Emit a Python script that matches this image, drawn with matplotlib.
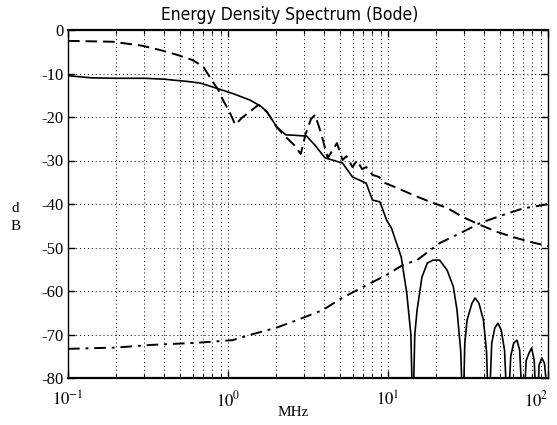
import matplotlib
matplotlib.use("Agg")
import matplotlib.pyplot as plt
from matplotlib.ticker import LogLocator, NullFormatter

# ---- data ----
solid_f = [0.1, 0.14, 0.2, 0.3, 0.4, 0.45, 0.55, 0.67, 0.85, 1.07, 1.37, 1.6, 1.75,
           2.02, 2.3, 2.6, 3.1, 3.5, 4.04, 4.5, 5.2, 6.0, 7.3, 8.0, 8.9, 9.8, 10.5,
           12.1, 13.1, 13.9, 14.3, 14.7, 15.2, 16.3, 17.6, 19.1, 21, 23.4, 25.6, 27,
           28.5, 29.4, 30.2, 31.2, 33.5, 35, 37, 39.5, 41.3, 42.6, 44.5, 46.5, 48.7,
           51, 53.5, 56, 58.5, 61, 64, 66.5, 70, 73, 76, 79, 82, 85, 88, 91.5, 95, 100]
solid_db = [-10.5, -11, -11.1, -11.1, -11.3, -11.5, -11.8, -12.2, -13.4, -14.6, -16.1, -17.5, -18.8,
            -22.3, -24.1, -24.2, -24.4, -26.5, -29.4, -29.9, -30.6, -33.8, -35.2, -39.1, -39.5, -43.7, -45.5,
            -52.2, -60.5, -70, -90, -70, -64.4, -56.8, -53.6, -52.9, -52.9, -55.2, -59, -64.4,
            -74, -90, -72, -66.7, -62.8, -61.6, -62.8, -66.7, -74, -90, -72, -68.5, -67.4,
            -69, -73.6, -90, -75, -72, -71.3, -73.6, -90, -76, -74.3, -73.1, -75.9, -90, -77, -75.4, -76.6, -85]

dash_f = [0.1, 0.19, 0.29, 0.376, 0.48, 0.6, 0.7, 0.79, 0.87, 0.93, 1.03, 1.11, 1.22, 1.41,
          1.55, 1.75, 2.02, 2.3, 2.6, 2.85, 3.05, 3.3, 3.5, 3.8, 4.2, 4.8, 5.2, 5.5, 6.0,
          6.4, 6.9, 7.3, 8.0, 8.8, 9.6, 11.4, 14.3, 18.3, 23.4, 29.4, 37.6, 48, 60.4, 77.2, 93, 100]
dash_db = [-2.5, -2.7, -3.6, -4.6, -5.7, -6.9, -8.4, -11.5, -13.8, -16.1, -19.1, -21.8, -20.2, -18.4,
           -17.2, -18.8, -22.4, -24.6, -26.5, -28.5, -24, -20.5, -19.5, -23.5, -29.4, -26, -29.9, -29, -31.5,
           -30, -32, -31.5, -33.3, -33.8, -35.2, -36.3, -37.9, -39.5, -40.9, -43, -44.8, -46.4, -47.6, -48.7, -49.4, -49.7]

dd_f = [0.1, 0.2, 0.33, 0.64, 1.07, 1.37, 2.02, 2.7, 3.9, 5.16, 7.4, 9.8, 12.4, 15.2, 21,
        29.4, 37.5, 52.5, 70, 95, 100]
dd_db = [-73.3, -73, -72.4, -71.9, -71.3, -70.1, -68.4, -66.7, -64.4, -61.6, -58.6, -56.3, -54,
         -52.9, -49, -46.4, -44.4, -42.5, -41, -40.2, -40]

title = "Energy Density Spectrum (Bode)"
xlabel = "MHz"
ylabel = "d\nB"
yticks = [0, -10, -20, -30, -40, -50, -60, -70, -80]
xticks = [0.1, 1, 10, 100]
xticklabels = [r"$10^{-1}$", r"$10^{0}$", r"$10^{1}$", r"$10^{2}$"]

plt.rcParams['font.family'] = ['Liberation Serif', 'DejaVu Serif']
plt.rcParams['mathtext.fontset'] = 'stix'

fig = plt.figure(figsize=(5.57, 4.25), dpi=100)
ax = fig.add_axes([68/557, 1-378/425, 480/557, 348/425])

ax.plot(dash_f, dash_db, color='black', linestyle=(0, (6, 3)), linewidth=1.4)
ax.plot(solid_f, solid_db, color='black', linestyle='-', linewidth=1.2)
ax.plot(dd_f, dd_db, color='black', linestyle=(0, (6, 3, 1.5, 3)), linewidth=1.4)

ax.set_xscale('log')
ax.set_xlim(0.1, 100)
ax.set_ylim(-80, 0)
ax.set_xticks(xticks)
ax.set_xticklabels(xticklabels, fontsize=12)
ax.xaxis.set_minor_locator(LogLocator(base=10, subs=range(2, 10)))
ax.xaxis.set_minor_formatter(NullFormatter())
ax.set_yticks(yticks)
ax.set_yticklabels([str(v) for v in yticks], fontsize=12)
ax.get_xticklabels()[-1].set_ha('right')

ax.grid(True, which='major', color='black', linestyle=(0, (1, 3)), linewidth=0.7)
ax.grid(True, which='minor', axis='x', color='black', linestyle=(0, (1, 3)), linewidth=0.7)

ax.tick_params(which='both', direction='in', top=True, right=True)
ax.tick_params(which='major', length=5, width=1)
ax.tick_params(which='minor', length=3, width=0.8)
ax.tick_params(axis='x', which='major', pad=9)
for s in ['top', 'bottom']:
    ax.spines[s].set_linewidth(1.6)
for s in ['left', 'right']:
    ax.spines[s].set_linewidth(1.0)

fig.text(290/557, 1-15/425, title, fontsize=12.5, ha='center', va='center',
         family=['DejaVu Sans'], fontstretch='condensed')
ax.set_xlabel(xlabel, fontsize=11, va='center')
ax.xaxis.set_label_coords(0.469, -0.1)
ax.set_ylabel(ylabel, fontsize=11, rotation=0, va='center', linespacing=1.5)
ax.yaxis.set_label_coords(-0.11, 0.46)

fig.savefig("out.png", dpi=100)
